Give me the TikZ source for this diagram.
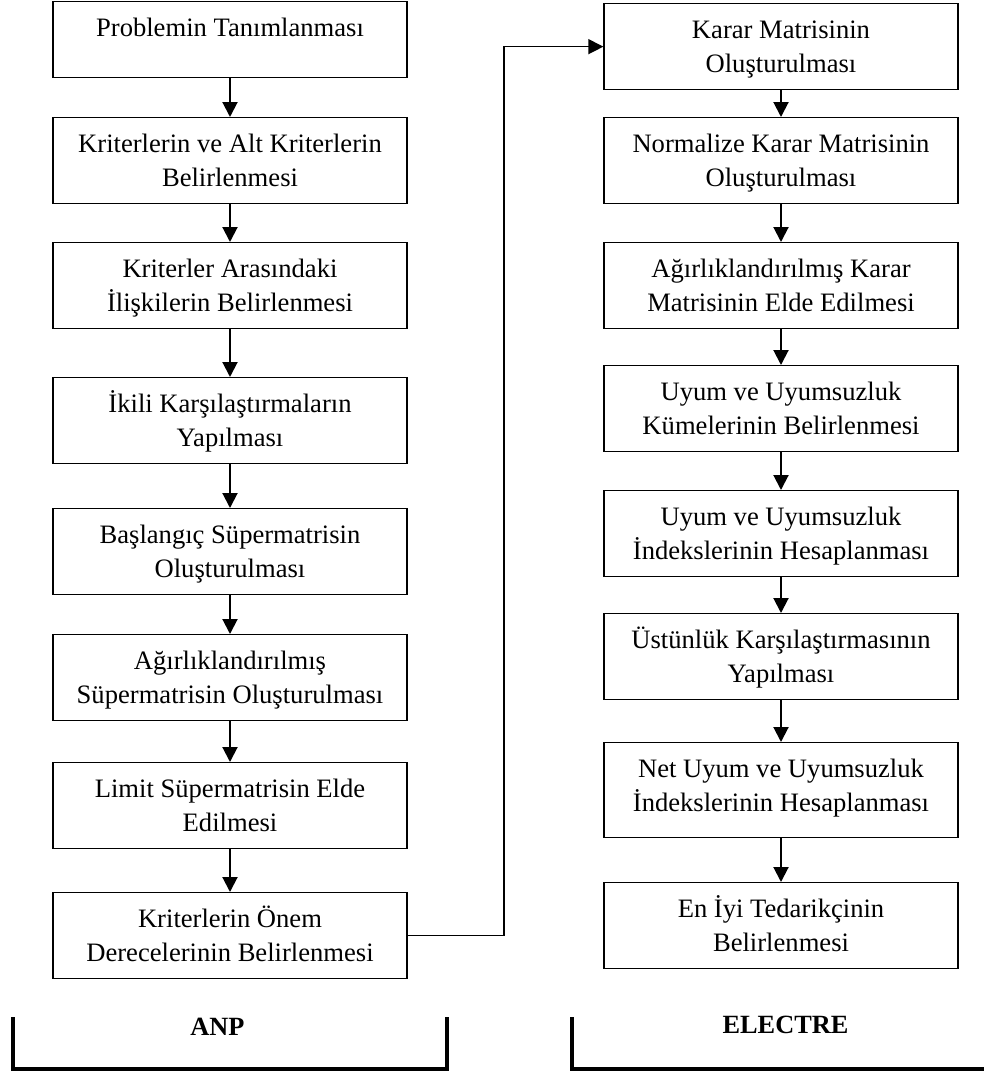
\documentclass[tikz,border=0pt]{standalone}
\usepackage{fontspec}
\setmainfont{Liberation Serif}
\usetikzlibrary{arrows.meta}
\newcommand\lnst{\rule[-8pt]{0pt}{34pt}}
\begin{document}
\begin{tikzpicture}[x=1pt,y=-1pt,
  box/.style={draw, line width=1.3pt, minimum width=354pt, inner xsep=0pt, inner ysep=9pt,
    align=center, anchor=north, font=\fontsize{26.6}{34}\selectfont},
  flow/.style={line width=2pt, -{Triangle[width=15pt,length=15pt]}},
  link/.style={line width=1.4pt, -{Triangle[width=15pt,length=15pt]}},
  brk/.style={line width=4pt, line join=miter},
  title/.style={font=\fontsize{26.3}{34}\selectfont\bfseries, anchor=base}]
\useasboundingbox (0,0) rectangle (984,1074);
% ANP column
\node[box] (l1) at (230,1) {\rule[-32pt]{0pt}{58pt}Problemin Tanımlanması};
\node[box] (l2) at (230,117) {\lnst Kriterlerin ve Alt Kriterlerin\\\lnst Belirlenmesi};
\node[box] (l3) at (230,242) {\lnst Kriterler Arasındaki\\\lnst İlişkilerin Belirlenmesi};
\node[box] (l4) at (230,377) {\lnst İkili Karşılaştırmaların\\\lnst Yapılması};
\node[box] (l5) at (230,508) {\lnst Başlangıç Süpermatrisin\\\lnst Oluşturulması};
\node[box] (l6) at (230,634) {\lnst Ağırlıklandırılmış\\\lnst Süpermatrisin Oluşturulması};
\node[box] (l7) at (230,762) {\lnst Limit Süpermatrisin Elde\\\lnst Edilmesi};
\node[box] (l8) at (230,892) {\lnst Kriterlerin Önem\\\lnst Derecelerinin Belirlenmesi};
% ELECTRE column
\node[box] (r1) at (781,3) {\lnst Karar Matrisinin\\\lnst Oluşturulması};
\node[box] (r2) at (781,117) {\lnst Normalize Karar Matrisinin\\\lnst Oluşturulması};
\node[box] (r3) at (781,242) {\lnst Ağırlıklandırılmış Karar\\\lnst Matrisinin Elde Edilmesi};
\node[box] (r4) at (781,365) {\lnst Uyum ve Uyumsuzluk\\\lnst Kümelerinin Belirlenmesi};
\node[box] (r5) at (781,490) {\lnst Uyum ve Uyumsuzluk\\\lnst İndekslerinin Hesaplanması};
\node[box] (r6) at (781,613) {\lnst Üstünlük Karşılaştırmasının\\\lnst Yapılması};
\node[box] (r7) at (781,742) {\lnst Net Uyum ve Uyumsuzluk\\\rule[-17pt]{0pt}{43pt}İndekslerinin Hesaplanması};
\node[box] (r8) at (781,882) {\lnst En İyi Tedarikçinin\\\lnst Belirlenmesi};
% arrows
\foreach \a/\b in {l1/l2,l2/l3,l3/l4,l4/l5,l5/l6,l6/l7,l7/l8,r1/r2,r2/r3,r3/r4,r4/r5,r5/r6,r6/r7,r7/r8}
  \draw[flow] (\a.south) -- (\b.north);
\coordinate (bend) at (504,0);
\draw[link] (l8.east) -| (bend |- r1.west) -- (r1.west);
% brackets
\draw[brk] (13,1017) -- (13,1069) -- (447,1069) -- (447,1017);
\draw[brk] (572,1017) -- (572,1069) -- (990,1069);
\node[title] (anp) at (217.5,1035) {ANP};
\node[title] (electre) at (785.5,1033) {ELECTRE};
\end{tikzpicture}
\end{document}
